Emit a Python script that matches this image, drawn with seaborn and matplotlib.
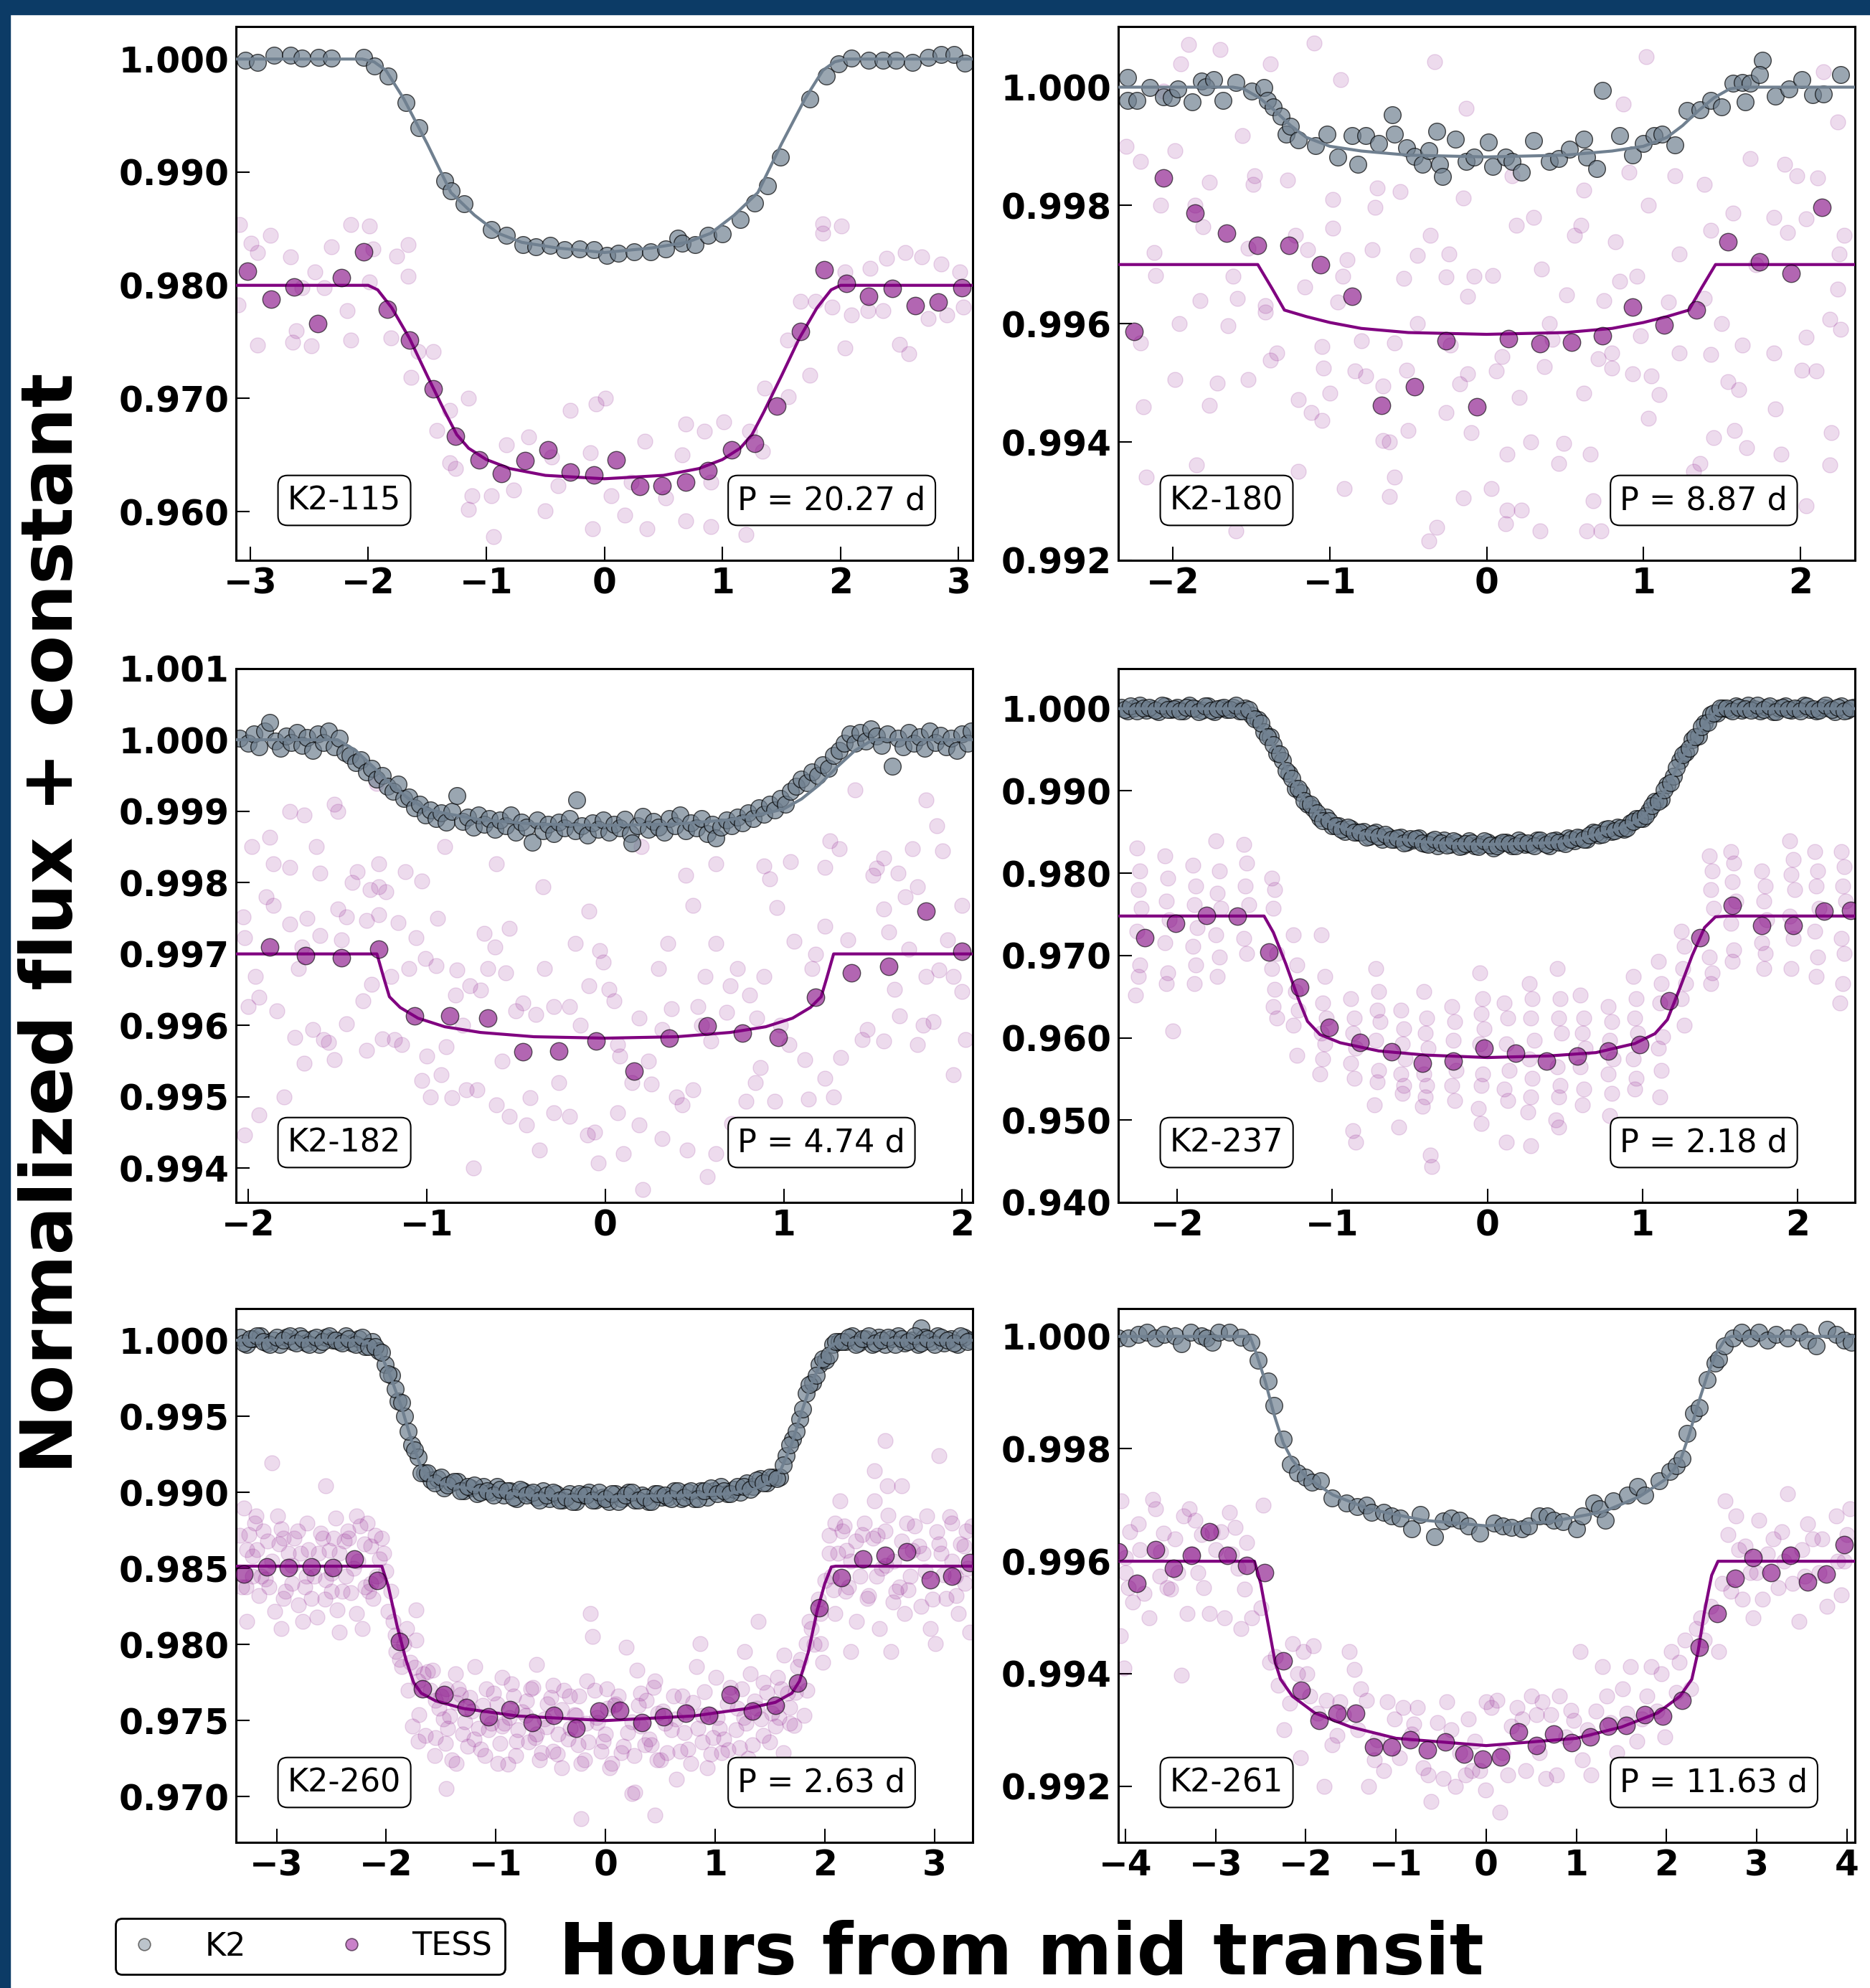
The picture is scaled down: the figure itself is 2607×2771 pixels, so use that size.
import matplotlib
matplotlib.use("Agg")
import matplotlib.pyplot as plt
import seaborn as sns
from matplotlib.lines import Line2D
from matplotlib.patches import Rectangle

sns.set_style("white")
plt.rcParams["font.family"] = ["DejaVu Sans"]
plt.rcParams.update({"text.color": "black", "xtick.color": "black", "ytick.color": "black",
                     "axes.edgecolor": "black", "axes.labelcolor": "black"})

# ======================================
# DATA  (hours from mid transit, normalized flux)
# ======================================

names = ["K2-115", "K2-180", "K2-182", "K2-237", "K2-260", "K2-261"]
periods = ["P = 20.27 d", "P = 8.87 d", "P = 4.74 d", "P = 2.18 d", "P = 2.63 d", "P = 11.63 d"]

# ---- K2-115 ----
p1_k2 = [(-3.04, 0.99990), (-2.94, 0.99973), (-2.80, 1.00031), (-2.66, 1.00031), (-2.56, 1.00007),
         (-2.42, 1.00014), (-2.31, 1.00007), (-2.04, 1.00014), (-1.95, 0.99938), (-1.83, 0.99852),
         (-1.68, 0.99612), (-1.57, 0.99395), (-1.35, 0.98924), (-1.30, 0.98838), (-1.19, 0.98718),
         (-0.96, 0.98495), (-0.83, 0.98443), (-0.69, 0.98357), (-0.58, 0.98340), (-0.46, 0.98351),
         (-0.34, 0.98313), (-0.21, 0.98323), (-0.09, 0.98313), (0.02, 0.98265), (0.12, 0.98282),
         (0.25, 0.98296), (0.39, 0.98296), (0.52, 0.98323), (0.62, 0.98419), (0.66, 0.98375),
         (0.77, 0.98357), (0.88, 0.98443), (1.00, 0.98454), (1.15, 0.98581), (1.27, 0.98725),
         (1.38, 0.98880), (1.49, 0.99131), (1.74, 0.99646), (1.88, 0.99852), (1.98, 0.99955),
         (2.09, 1.00007), (2.24, 0.99990), (2.36, 0.99990), (2.47, 0.99990), (2.61, 0.99973),
         (2.74, 1.00014), (2.85, 1.00041), (2.96, 1.00041), (3.05, 0.99962)]
p1_k2_model = [(-3.12, 1.0), (-2.05, 1.0), (-1.95, 0.99975), (-1.85, 0.99900), (-1.70, 0.99650),
               (-1.50, 0.99250), (-1.30, 0.98820), (-1.10, 0.98620), (-0.90, 0.98460), (-0.70, 0.98380),
               (-0.40, 0.98330), (0.0, 0.98290), (0.40, 0.98330), (0.70, 0.98380), (0.90, 0.98460),
               (1.10, 0.98620), (1.30, 0.98820), (1.50, 0.99250), (1.70, 0.99650), (1.85, 0.99900),
               (1.95, 0.99975), (2.05, 1.0), (3.12, 1.0)]
p1_bin = [(-3.02, 0.98124), (-2.82, 0.97876), (-2.63, 0.97986), (-2.43, 0.97663), (-2.23, 0.98069),
          (-2.04, 0.98296), (-1.84, 0.97787), (-1.65, 0.97515), (-1.45, 0.97086), (-1.26, 0.96667),
          (-1.06, 0.96457), (-0.87, 0.96337), (-0.67, 0.96450), (-0.48, 0.96546), (-0.29, 0.96347),
          (-0.09, 0.96323), (0.10, 0.96460), (0.30, 0.96220), (0.49, 0.96227), (0.69, 0.96261),
          (0.88, 0.96364), (1.08, 0.96543), (1.27, 0.96605), (1.46, 0.96931), (1.66, 0.97595),
          (1.86, 0.98137), (2.05, 0.98014), (2.24, 0.97904), (2.44, 0.97973), (2.63, 0.97821),
          (2.83, 0.97849), (3.03, 0.97979)]
p1_tess_model = [(-3.12, 0.9800), (-2.00, 0.9800), (-1.92, 0.9796), (-1.80, 0.9780), (-1.65, 0.9753),
                 (-1.50, 0.9720), (-1.35, 0.9688), (-1.25, 0.9668), (-1.15, 0.9656), (-1.00, 0.9646),
                 (-0.80, 0.9638), (-0.50, 0.9632), (0.0, 0.9629), (0.50, 0.9632), (0.80, 0.9638),
                 (1.00, 0.9646), (1.15, 0.9656), (1.25, 0.9668), (1.35, 0.9688), (1.50, 0.9720),
                 (1.65, 0.9753), (1.80, 0.9780), (1.92, 0.9796), (2.00, 0.9800), (3.12, 0.9800)]
p1_faint = [(-3.09, 0.98536), (-2.99, 0.98374), (-2.83, 0.98443), (-2.94, 0.97471), (-3.10, 0.97825),
            (-2.94, 0.98289), (-2.66, 0.98254), (-2.45, 0.98117), (-2.31, 0.98340), (-2.15, 0.98536),
            (-1.99, 0.98522), (-1.96, 0.98323), (-1.76, 0.98261), (-1.66, 0.98357), (-1.66, 0.98083),
            (-2.64, 0.97498), (-2.48, 0.97464), (-2.61, 0.97601), (-2.56, 0.97979), (-2.37, 0.97979),
            (-2.18, 0.97773), (-2.15, 0.97515), (-1.99, 0.98031), (-1.81, 0.97533), (-1.64, 0.97189),
            (-1.58, 0.97412), (-1.45, 0.97412), (-1.31, 0.96897), (-1.15, 0.97000), (-1.42, 0.96715),
            (-1.31, 0.96433), (-1.26, 0.96382), (-1.12, 0.96141), (-1.15, 0.96021), (-0.94, 0.95780),
            (-0.96, 0.96141), (-0.83, 0.96588), (-0.77, 0.96193), (-0.64, 0.96657), (-0.50, 0.96004),
            (-0.45, 0.96485), (-0.39, 0.96227), (-0.29, 0.96897), (-0.12, 0.96519), (-0.07, 0.96949),
            (0.01, 0.97000), (0.06, 0.96141), (-0.10, 0.95849), (0.17, 0.95969), (0.23, 0.96261),
            (0.36, 0.95849), (0.34, 0.96622), (0.52, 0.96124), (0.66, 0.96502), (0.69, 0.96777),
            (0.69, 0.95918), (0.85, 0.96708), (0.90, 0.96261), (0.90, 0.95866), (1.01, 0.96794),
            (1.20, 0.95797), (1.23, 0.96708), (1.34, 0.96536), (1.36, 0.97093), (1.56, 0.97017),
            (1.74, 0.97206), (1.55, 0.97515), (1.66, 0.97859), (1.79, 0.97859), (1.93, 0.97808),
            (1.85, 0.98546), (2.01, 0.98522), (1.85, 0.98460), (2.04, 0.98117), (2.09, 0.97739),
            (2.04, 0.97447), (2.23, 0.97773), (2.25, 0.98151), (2.39, 0.98237), (2.55, 0.98289),
            (2.58, 0.97395), (2.50, 0.97481), (2.69, 0.98254), (2.74, 0.97704), (2.85, 0.98186),
            (2.90, 0.97739), (3.01, 0.98117), (3.04, 0.97808), (2.36, 0.97773)]

# ---- K2-180 ----
p2_k2 = [(-2.29, 1.00016), (-2.29, 0.99977), (-2.23, 0.99977), (-2.15, 0.99999), (-2.06, 0.99984),
         (-2.01, 0.99982), (-1.97, 0.99997), (-1.88, 0.99975), (-1.82, 1.00010), (-1.79, 1.00000),
         (-1.74, 1.00013), (-1.68, 0.99977), (-1.60, 1.00008), (-1.50, 0.99993), (-1.42, 0.99999),
         (-1.40, 0.99977), (-1.36, 0.99967), (-1.31, 0.99951), (-1.28, 0.99921), (-1.25, 0.99934),
         (-1.20, 0.99911), (-1.09, 0.99901), (-1.02, 0.99921), (-0.95, 0.99882), (-0.86, 0.99918),
         (-0.82, 0.99869), (-0.77, 0.99918), (-0.69, 0.99905), (-0.60, 0.99953), (-0.59, 0.99921),
         (-0.51, 0.99898), (-0.46, 0.99883), (-0.41, 0.99869), (-0.37, 0.99892), (-0.32, 0.99925),
         (-0.30, 0.99869), (-0.28, 0.99849), (-0.20, 0.99912), (-0.13, 0.99875), (-0.08, 0.99882),
         (0.01, 0.99907), (0.04, 0.99866), (0.12, 0.99882), (0.16, 0.99875), (0.22, 0.99856),
         (0.30, 0.99910), (0.40, 0.99875), (0.46, 0.99879), (0.53, 0.99895), (0.62, 0.99912),
         (0.64, 0.99882), (0.70, 0.99862), (0.74, 0.99995), (0.85, 0.99918), (0.93, 0.99885),
         (1.00, 0.99905), (1.07, 0.99918), (1.12, 0.99921), (1.20, 0.99902), (1.28, 0.99961),
         (1.36, 0.99962), (1.43, 0.99977), (1.50, 0.99966), (1.57, 1.00007), (1.63, 1.00008),
         (1.65, 0.99975), (1.68, 1.00007), (1.76, 1.00046), (1.74, 1.00021), (1.84, 0.99985),
         (1.93, 0.99997), (2.01, 1.00013), (2.08, 0.99987), (2.15, 0.99988), (2.26, 1.00021)]
p2_k2_model = [(-2.35, 1.0), (-1.62, 1.0), (-1.55, 0.99997), (-1.45, 0.99982), (-1.35, 0.99960),
               (-1.25, 0.99935), (-1.15, 0.99915), (-1.00, 0.99900), (-0.80, 0.99892), (-0.50, 0.99885),
               (0.0, 0.99882), (0.50, 0.99885), (0.80, 0.99892), (1.00, 0.99900), (1.15, 0.99915),
               (1.25, 0.99935), (1.35, 0.99960), (1.45, 0.99982), (1.55, 0.99997), (1.62, 1.0), (2.35, 1.0)]
p2_bin = [(-2.25, 0.99587), (-2.06, 0.99846), (-1.86, 0.99787), (-1.66, 0.99753), (-1.46, 0.99733),
          (-1.26, 0.99733), (-1.06, 0.99700), (-0.86, 0.99646), (-0.67, 0.99462), (-0.46, 0.99494),
          (-0.26, 0.99571), (-0.06, 0.99460), (0.14, 0.99575), (0.34, 0.99566), (0.54, 0.99569),
          (0.74, 0.99580), (0.93, 0.99628), (1.13, 0.99598), (1.34, 0.99623), (1.54, 0.99738),
          (1.74, 0.99705), (1.94, 0.99685), (2.14, 0.99797)]
p2_tess_model = [(-2.35, 0.99700), (-1.46, 0.99700), (-1.37, 0.99660), (-1.29, 0.99623), (-1.15, 0.99612),
                 (-1.00, 0.99602), (-0.80, 0.99592), (-0.50, 0.99585), (0.0, 0.99582), (0.50, 0.99585),
                 (0.80, 0.99592), (1.00, 0.99602), (1.15, 0.99612), (1.29, 0.99623), (1.37, 0.99660),
                 (1.46, 0.99700), (2.35, 0.99700)]
p2_faint = [(-1.90, 1.00072), (-1.70, 1.00064), (-1.95, 1.00039), (-2.06, 0.99993), (-1.38, 1.00039),
            (-1.10, 1.00075), (-0.93, 1.00013), (-0.33, 1.00043), (-0.13, 0.99964), (1.02, 1.00052),
            (0.87, 0.99972), (2.15, 1.00026), (2.24, 0.99941), (-1.56, 0.99918), (-1.99, 0.99892),
            (-2.21, 0.99875), (-1.77, 0.99839), (-1.49, 0.99836), (-1.27, 0.99843), (-0.98, 0.99810),
            (-0.71, 0.99797), (-0.55, 0.99823), (-0.15, 0.99813), (0.62, 0.99826), (0.91, 0.99856),
            (1.39, 0.99836), (1.68, 0.99879), (1.90, 0.99869), (2.11, 0.99846), (1.03, 0.99800),
            (1.57, 0.99787), (1.83, 0.99780), (1.92, 0.99754), (2.04, 0.99777), (-2.08, 0.99800),
            (-1.81, 0.99764), (-1.52, 0.99728), (-1.14, 0.99725), (-0.98, 0.99761), (-0.89, 0.99708),
            (-0.73, 0.99725), (-0.44, 0.99715), (-0.24, 0.99718), (0.19, 0.99767), (0.30, 0.99780),
            (0.60, 0.99767), (0.82, 0.99738), (1.23, 0.99718), (1.43, 0.99758), (2.25, 0.99718),
            (-2.11, 0.99682), (-1.83, 0.99639), (-1.59, 0.99643), (-1.41, 0.99630), (-1.16, 0.99662),
            (-0.95, 0.99636), (-0.53, 0.99677), (-0.26, 0.99679), (-0.12, 0.99646), (0.04, 0.99682),
            (0.35, 0.99692), (0.51, 0.99649), (0.75, 0.99639), (0.85, 0.99672), (1.16, 0.99636),
            (1.39, 0.99643), (2.24, 0.99659), (2.19, 0.99607), (-2.21, 0.99567), (-1.65, 0.99597),
            (-1.41, 0.99620), (-1.05, 0.99561), (-0.80, 0.99571), (-0.59, 0.99567), (-0.23, 0.99564),
            (0.10, 0.99544), (0.42, 0.99574), (0.71, 0.99541), (0.98, 0.99580), (1.23, 0.99551),
            (1.43, 0.99548), (1.63, 0.99564), (1.83, 0.99551), (2.04, 0.99577), (2.26, 0.99590),
            (-1.38, 0.99538), (-1.04, 0.99525), (-0.77, 0.99512), (-0.51, 0.99521), (-0.12, 0.99515),
            (0.37, 0.99528), (0.80, 0.99525), (1.05, 0.99512), (1.54, 0.99502), (2.01, 0.99521),
            (-1.99, 0.99505), (-1.52, 0.99505), (-1.20, 0.99472), (-1.00, 0.99482), (-0.66, 0.99495),
            (-0.17, 0.99498), (0.21, 0.99475), (0.62, 0.99482), (0.93, 0.99515), (1.61, 0.99489),
            (1.84, 0.99456), (-2.19, 0.99459), (-1.77, 0.99462), (-1.05, 0.99436), (-0.66, 0.99403),
            (-0.50, 0.99420), (-0.10, 0.99416), (0.13, 0.99380), (0.49, 0.99397), (0.66, 0.99380),
            (1.03, 0.99440), (1.45, 0.99407), (1.66, 0.99390), (2.19, 0.99361), (-1.85, 0.99361),
            (-2.17, 0.99341), (-0.91, 0.99321), (-0.59, 0.99341), (-0.62, 0.99308), (-0.32, 0.99256),
            (-0.15, 0.99305), (0.03, 0.99321), (0.13, 0.99285), (0.22, 0.99285), (0.12, 0.99262),
            (0.46, 0.99364), (0.64, 0.99249), (0.73, 0.99249), (1.05, 0.99318), (1.36, 0.99364),
            (1.63, 0.99315), (2.20, 0.99416), (-0.37, 0.99233), (2.04, 0.99292),
            (-2.30, 0.99900), (-2.12, 0.99720), (-1.96, 0.99600), (-1.86, 0.99800), (-1.72, 0.99500),
            (-1.62, 0.99680), (-1.48, 0.99850), (-1.34, 0.99550), (-1.22, 0.99750), (-1.12, 0.99450),
            (-0.92, 0.99680), (-0.84, 0.99520), (-0.70, 0.99830), (-0.62, 0.99400), (-0.44, 0.99600),
            (-0.36, 0.99750), (-0.26, 0.99450), (-0.08, 0.99680), (0.06, 0.99520), (0.16, 0.99850),
            (0.28, 0.99400), (0.40, 0.99600), (0.56, 0.99750), (0.68, 0.99300), (0.80, 0.99550),
            (0.96, 0.99680), (1.10, 0.99480), (1.20, 0.99850), (1.32, 0.99350), (1.50, 0.99600),
            (1.58, 0.99420), (1.72, 0.99700), (1.88, 0.99380), (1.98, 0.99850), (2.10, 0.99520),
            (2.28, 0.99750), (-2.02, 0.99300), (-1.60, 0.99250), (-1.20, 0.99350), (0.34, 0.99250)]

# ---- K2-182 ----
p3_k2 = [(-2.05, 1.00002), (-2.00, 0.99995), (-1.97, 1.00008), (-1.94, 0.99990), (-1.91, 1.00012),
         (-1.88, 1.00024), (-1.85, 0.99998), (-1.82, 0.99988), (-1.79, 1.00005), (-1.76, 0.99996),
         (-1.73, 1.00010), (-1.70, 0.99992), (-1.67, 1.00003), (-1.64, 0.99985), (-1.61, 1.00008),
         (-1.58, 0.99996), (-1.55, 1.00012), (-1.52, 0.99990), (-1.49, 1.00002), (-1.46, 0.99982),
         (-1.43, 0.99978), (-1.40, 0.99968), (-1.37, 0.99972), (-1.34, 0.99955), (-1.31, 0.99960),
         (-1.28, 0.99945), (-1.25, 0.99950), (-1.22, 0.99935), (-1.19, 0.99928), (-1.16, 0.99938),
         (-1.13, 0.99918), (-1.10, 0.99920), (-1.07, 0.99905), (-1.04, 0.99910), (-1.01, 0.99895),
         (-0.98, 0.99902), (-0.95, 0.99890), (-0.92, 0.99898), (-0.89, 0.99885), (-0.86, 0.99900),
         (-0.83, 0.99922), (-0.80, 0.99886), (-0.77, 0.99892), (-0.74, 0.99878), (-0.71, 0.99895),
         (-0.68, 0.99882), (-0.65, 0.99890), (-0.62, 0.99874), (-0.59, 0.99888), (-0.56, 0.99880),
         (-0.53, 0.99895), (-0.50, 0.99870), (-0.47, 0.99885), (-0.44, 0.99878), (-0.41, 0.99856),
         (-0.38, 0.99888), (-0.35, 0.99872), (-0.32, 0.99882), (-0.29, 0.99868), (-0.26, 0.99885),
         (-0.23, 0.99876), (-0.20, 0.99890), (-0.17, 0.99872), (-0.16, 0.99916), (-0.13, 0.99880),
         (-0.10, 0.99866), (-0.07, 0.99884), (-0.04, 0.99874), (-0.01, 0.99888), (0.02, 0.99870),
         (0.05, 0.99882), (0.08, 0.99876), (0.11, 0.99889), (0.14, 0.99868), (0.15, 0.99855),
         (0.18, 0.99880), (0.21, 0.99893), (0.24, 0.99874), (0.27, 0.99886), (0.30, 0.99878),
         (0.33, 0.99870), (0.36, 0.99890), (0.39, 0.99880), (0.42, 0.99895), (0.45, 0.99872),
         (0.48, 0.99884), (0.51, 0.99876), (0.54, 0.99890), (0.57, 0.99868), (0.60, 0.99882),
         (0.62, 0.99862), (0.65, 0.99878), (0.68, 0.99888), (0.71, 0.99880), (0.74, 0.99892),
         (0.77, 0.99884), (0.80, 0.99898), (0.83, 0.99890), (0.86, 0.99905), (0.89, 0.99896),
         (0.92, 0.99910), (0.95, 0.99902), (0.98, 0.99918), (1.01, 0.99910), (1.04, 0.99928),
         (1.07, 0.99935), (1.10, 0.99945), (1.13, 0.99940), (1.16, 0.99955), (1.19, 0.99950),
         (1.22, 0.99965), (1.25, 0.99960), (1.28, 0.99978), (1.31, 0.99985), (1.34, 0.99995),
         (1.37, 1.00008), (1.40, 0.99995), (1.43, 1.00010), (1.46, 0.99998), (1.49, 1.00015),
         (1.52, 1.00005), (1.55, 0.99992), (1.58, 1.00008), (1.61, 0.99963), (1.64, 1.00002),
         (1.67, 0.99990), (1.70, 1.00010), (1.73, 0.99995), (1.76, 1.00004), (1.79, 0.99988),
         (1.82, 1.00012), (1.85, 0.99996), (1.88, 1.00006), (1.91, 0.99990), (1.94, 1.00002),
         (1.97, 0.99985), (2.00, 1.00008), (2.03, 0.99995), (2.05, 1.00012)]
p3_k2_model = [(-2.07, 1.0), (-1.50, 1.0), (-1.40, 0.99985), (-1.30, 0.99962), (-1.20, 0.99937),
               (-1.10, 0.99917), (-1.00, 0.99903), (-0.90, 0.99897), (-0.70, 0.99888), (-0.40, 0.99882),
               (0.0, 0.99880), (0.40, 0.99882), (0.70, 0.99888), (0.90, 0.99897), (1.00, 0.99903),
               (1.10, 0.99917), (1.20, 0.99937), (1.30, 0.99962), (1.40, 0.99985), (1.50, 1.0), (2.07, 1.0)]
p3_bin = [(-1.88, 0.99710), (-1.68, 0.99698), (-1.48, 0.99695), (-1.27, 0.99707), (-1.07, 0.99613),
          (-0.87, 0.99613), (-0.66, 0.99610), (-0.46, 0.99563), (-0.26, 0.99564), (-0.05, 0.99578),
          (0.16, 0.99536), (0.36, 0.99582), (0.57, 0.99599), (0.77, 0.99589), (0.97, 0.99583),
          (1.18, 0.99639), (1.38, 0.99673), (1.59, 0.99683), (1.80, 0.99760), (2.00, 0.99704)]
p3_tess_model = [(-2.07, 0.99700), (-1.28, 0.99700), (-1.24, 0.99665), (-1.21, 0.99640), (-1.15, 0.99625),
                 (-1.05, 0.99610), (-0.90, 0.99598), (-0.70, 0.99590), (-0.40, 0.99584), (0.0, 0.99582),
                 (0.40, 0.99584), (0.70, 0.99590), (0.90, 0.99598), (1.05, 0.99610), (1.15, 0.99625),
                 (1.21, 0.99640), (1.24, 0.99665), (1.28, 0.99700), (2.07, 0.99700)]
p3_faint = [(-2.03, 0.99752), (-2.02, 0.99723), (-1.96, 0.99668), (-2.00, 0.99626), (-1.94, 0.99475),
            (-2.02, 0.99446), (-1.94, 0.99639), (-1.86, 0.99826), (-1.88, 0.99863), (-1.77, 0.99900),
            (-1.69, 0.99895), (-1.60, 0.99813), (-1.77, 0.99821), (-1.86, 0.99768), (-1.77, 0.99742),
            (-1.67, 0.99750), (-1.70, 0.99710), (-1.60, 0.99726), (-1.50, 0.99763), (-1.45, 0.99752),
            (-1.34, 0.99747), (-1.27, 0.99755), (-1.39, 0.99815), (-1.42, 0.99800), (-1.27, 0.99826),
            (-1.27, 0.99794), (-1.12, 0.99815), (-1.23, 0.99787), (-1.16, 0.99744), (-1.06, 0.99723),
            (-1.03, 0.99802), (-1.52, 0.99910), (-1.28, 0.99939), (-1.20, 0.99668), (-1.31, 0.99657),
            (-1.36, 0.99634), (-1.45, 0.99602), (-1.55, 0.99576), (-1.64, 0.99594), (-1.74, 0.99583),
            (-1.69, 0.99547), (-1.52, 0.99552), (-1.34, 0.99565), (-1.25, 0.99581), (-1.14, 0.99573),
            (-1.00, 0.99557), (-0.89, 0.99570), (-1.03, 0.99523), (-0.92, 0.99531), (-0.86, 0.99499),
            (-0.78, 0.99510), (-0.72, 0.99510), (-0.61, 0.99489), (-0.54, 0.99473), (-0.42, 0.99499),
            (-0.29, 0.99478), (-0.20, 0.99473), (-0.10, 0.99446), (-0.04, 0.99407), (0.07, 0.99478),
            (0.19, 0.99460), (0.32, 0.99441), (0.46, 0.99425), (0.57, 0.99388), (0.71, 0.99462),
            (0.79, 0.99494), (0.95, 0.99494), (1.14, 0.99497), (1.23, 0.99526), (1.32, 0.99555),
            (1.47, 0.99594), (1.56, 0.99578), (1.65, 0.99613), (1.75, 0.99573), (1.84, 0.99605),
            (1.95, 0.99531), (2.00, 0.99647), (1.95, 0.99668), (1.87, 0.99678), (1.80, 0.99668),
            (1.70, 0.99707), (1.59, 0.99731), (1.56, 0.99763), (1.50, 0.99810), (1.56, 0.99834),
            (1.64, 0.99813), (1.75, 0.99794), (1.72, 0.99847), (1.89, 0.99844), (1.80, 0.99916),
            (2.00, 0.99768), (1.31, 0.99847), (1.26, 0.99858), (1.23, 0.99821), (1.23, 0.99739),
            (1.18, 0.99700), (1.06, 0.99718), (0.92, 0.99805), (0.89, 0.99823), (0.96, 0.99765),
            (1.04, 0.99829), (0.62, 0.99826), (0.45, 0.99810), (0.49, 0.99768), (0.35, 0.99715),
            (0.62, 0.99715), (0.56, 0.99668), (0.70, 0.99655), (0.81, 0.99642), (0.89, 0.99668),
            (0.85, 0.99610), (0.68, 0.99618), (0.52, 0.99626), (0.37, 0.99623), (0.32, 0.99594),
            (0.19, 0.99610), (0.08, 0.99557), (0.05, 0.99634), (-0.01, 0.99689), (-0.09, 0.99655),
            (-0.03, 0.99705), (-0.17, 0.99715), (-0.20, 0.99626), (-0.29, 0.99626), (-0.39, 0.99615),
            (-0.46, 0.99631), (-0.56, 0.99673), (-0.54, 0.99736), (-0.62, 0.99710), (-0.68, 0.99729),
            (-0.76, 0.99655), (-0.70, 0.99649), (-0.83, 0.99678), (-0.95, 0.99684), (-0.84, 0.99642),
            (-1.01, 0.99694), (-0.35, 0.99794), (-0.09, 0.99760), (-0.61, 0.99826), (-0.37, 0.99425),
            (0.07, 0.99573), (0.15, 0.99520), (0.26, 0.99518), (0.43, 0.99489), (0.49, 0.99510),
            (0.59, 0.99578), (0.87, 0.99541), (1.03, 0.99573), (1.12, 0.99552), (0.21, 0.99370),
            (-1.98, 0.99850), (-1.90, 0.99780), (-1.84, 0.99620), (-1.80, 0.99500), (-1.72, 0.99680),
            (-1.62, 0.99850), (-1.58, 0.99580), (-1.48, 0.99720), (-1.40, 0.99450), (-1.32, 0.99790),
            (-1.18, 0.99580), (-1.10, 0.99680), (-0.98, 0.99500), (-0.94, 0.99750), (-0.80, 0.99600),
            (-0.74, 0.99400), (-0.66, 0.99680), (-0.58, 0.99550), (-0.50, 0.99620), (-0.44, 0.99460),
            (-0.34, 0.99680), (-0.26, 0.99520), (-0.14, 0.99600), (-0.06, 0.99450), (0.02, 0.99650),
            (0.10, 0.99420), (0.24, 0.99550), (0.30, 0.99680), (0.40, 0.99500), (0.54, 0.99600),
            (0.62, 0.99420), (0.74, 0.99680), (0.84, 0.99520), (0.98, 0.99600), (1.08, 0.99420),
            (1.16, 0.99680), (1.28, 0.99500), (1.36, 0.99720), (1.44, 0.99580), (1.52, 0.99820),
            (1.62, 0.99650), (1.68, 0.99780), (1.78, 0.99600), (1.86, 0.99880), (1.92, 0.99720),
            (2.02, 0.99580), (-1.50, 0.99900), (1.40, 0.99930), (-0.90, 0.99850), (0.20, 0.99850)]

# ---- K2-237 ----
p4_k2 = [(-2.36, 1.0002), (-2.32, 0.9997), (-2.28, 1.0001), (-2.24, 1.0004), (-2.20, 0.9998),
         (-2.16, 1.0000), (-2.12, 0.9996), (-2.08, 1.0003), (-2.04, 0.9999), (-2.00, 1.0002),
         (-1.96, 0.9997), (-1.92, 1.0004), (-1.88, 1.0000), (-1.84, 0.9998), (-1.80, 1.0003),
         (-1.76, 0.9996), (-1.72, 1.0001), (-1.68, 0.9999), (-1.64, 1.0002), (-1.60, 0.9997),
         (-1.56, 1.0001), (-1.52, 0.9992), (-1.48, 0.9987), (-1.44, 0.9972), (-1.40, 0.9966),
         (-1.36, 0.9946), (-1.32, 0.9937), (-1.28, 0.9921), (-1.24, 0.9903), (-1.20, 0.9898),
         (-1.16, 0.9884), (-1.12, 0.9879), (-1.08, 0.9867), (-1.04, 0.9868), (-1.00, 0.9858),
         (-0.96, 0.9858), (-0.92, 0.9851), (-0.88, 0.9854), (-0.84, 0.9850), (-0.80, 0.9851),
         (-0.76, 0.9845), (-0.72, 0.9850), (-0.68, 0.9841), (-0.64, 0.9845), (-0.60, 0.9841),
         (-0.56, 0.9844), (-0.52, 0.9838), (-0.48, 0.9840), (-0.44, 0.9843), (-0.40, 0.9836),
         (-0.36, 0.9839), (-0.32, 0.9833), (-0.28, 0.9840), (-0.24, 0.9835), (-0.20, 0.9838),
         (-0.16, 0.9833), (-0.12, 0.9839), (-0.08, 0.9833), (-0.04, 0.9835), (0.00, 0.9838),
         (0.04, 0.9831), (0.08, 0.9836), (0.12, 0.9838), (0.16, 0.9833), (0.20, 0.9840),
         (0.24, 0.9835), (0.28, 0.9835), (0.32, 0.9840), (0.36, 0.9837), (0.40, 0.9833),
         (0.44, 0.9840), (0.48, 0.9838), (0.52, 0.9843), (0.56, 0.9839), (0.60, 0.9843),
         (0.64, 0.9841), (0.68, 0.9850), (0.72, 0.9846), (0.76, 0.9853), (0.80, 0.9851),
         (0.84, 0.9856), (0.88, 0.9853), (0.92, 0.9861), (0.96, 0.9866), (1.00, 0.9866),
         (1.04, 0.9876), (1.08, 0.9887), (1.12, 0.9890), (1.16, 0.9907), (1.20, 0.9918),
         (1.24, 0.9937), (1.28, 0.9947), (1.32, 0.9962), (1.36, 0.9967), (1.40, 0.9982),
         (1.44, 0.9993), (1.48, 0.9995), (1.52, 1.0001), (1.56, 0.9999), (1.60, 1.0003),
         (1.64, 0.9998), (1.68, 1.0004), (1.72, 1.0000), (1.76, 0.9997), (1.80, 1.0002),
         (1.84, 0.9996), (1.88, 1.0001), (1.92, 1.0003), (1.96, 0.9998), (2.00, 1.0000),
         (2.04, 1.0004), (2.08, 0.9999), (2.12, 0.9997), (2.16, 1.0002), (2.20, 1.0001),
         (2.24, 0.9996), (2.28, 1.0003), (2.32, 0.9998), (2.36, 1.0002)]
p4_k2_more = [(-2.34, 0.9999), (-2.30, 1.0003), (-2.26, 0.9997), (-2.22, 1.0001), (-2.18, 1.0002),
              (-2.14, 0.9998), (-2.10, 1.0004), (-2.06, 0.9999), (-2.02, 1.0000), (-1.98, 0.9997),
              (-1.94, 1.0002), (-1.90, 1.0001), (-1.86, 0.9996), (-1.82, 1.0003), (-1.78, 0.9998),
              (-1.74, 1.0000), (-1.70, 1.0002), (-1.66, 0.9999), (-1.62, 1.0004), (-1.58, 0.9997),
              (-1.54, 0.9999), (-1.50, 0.9988), (-1.46, 0.9982), (-1.42, 0.9966), (-1.38, 0.9956),
              (-1.34, 0.9945), (-1.30, 0.9925), (-1.26, 0.9915), (-1.22, 0.9903), (-1.18, 0.9888),
              (-1.14, 0.9884), (-1.10, 0.9873), (-1.06, 0.9864), (-1.02, 0.9864), (-0.98, 0.9858),
              (-0.94, 0.9853), (-0.90, 0.9856), (-0.86, 0.9850), (-0.82, 0.9850), (-0.78, 0.9844),
              (-0.74, 0.9848), (-0.70, 0.9845), (-0.66, 0.9847), (-0.62, 0.9841), (-0.58, 0.9843),
              (-0.54, 0.9837), (-0.50, 0.9842), (-0.46, 0.9842), (-0.42, 0.9837), (-0.38, 0.9835),
              (-0.34, 0.9841), (-0.30, 0.9837), (-0.26, 0.9834), (-0.22, 0.9839), (-0.18, 0.9832),
              (-0.14, 0.9836), (-0.10, 0.9837), (-0.06, 0.9832), (-0.02, 0.9839), (0.02, 0.9834),
              (0.06, 0.9833), (0.10, 0.9838), (0.14, 0.9836), (0.18, 0.9833), (0.22, 0.9838),
              (0.26, 0.9837), (0.30, 0.9833), (0.34, 0.9840), (0.38, 0.9835), (0.42, 0.9839),
              (0.46, 0.9838), (0.50, 0.9836), (0.54, 0.9841), (0.58, 0.9844), (0.62, 0.9841),
              (0.66, 0.9846), (0.70, 0.9849), (0.74, 0.9847), (0.78, 0.9854), (0.82, 0.9852),
              (0.86, 0.9855), (0.90, 0.9855), (0.94, 0.9863), (0.98, 0.9866), (1.02, 0.9870),
              (1.06, 0.9882), (1.10, 0.9887), (1.14, 0.9901), (1.18, 0.9910), (1.22, 0.9928),
              (1.26, 0.9944), (1.30, 0.9952), (1.34, 0.9966), (1.38, 0.9978), (1.42, 0.9983),
              (1.46, 0.9995), (1.50, 1.0001), (1.54, 1.0001), (1.58, 0.9997), (1.62, 1.0002),
              (1.66, 1.0000), (1.70, 0.9998), (1.74, 1.0004), (1.78, 0.9999), (1.82, 1.0003),
              (1.86, 0.9996), (1.90, 1.0002), (1.94, 0.9999), (1.98, 1.0001), (2.02, 0.9997),
              (2.06, 1.0003), (2.10, 1.0000), (2.14, 0.9998), (2.18, 1.0004), (2.22, 0.9999),
              (2.26, 1.0002), (2.30, 0.9997), (2.34, 1.0001)]
p4_k2_model = [(-2.38, 1.0), (-1.56, 1.0), (-1.52, 0.9994), (-1.48, 0.9984), (-1.44, 0.9973),
               (-1.40, 0.9962), (-1.36, 0.9949), (-1.32, 0.9935), (-1.28, 0.9921), (-1.24, 0.9907),
               (-1.20, 0.9895), (-1.16, 0.9885), (-1.12, 0.9877), (-1.08, 0.9870), (-1.00, 0.9860),
               (-0.90, 0.9853), (-0.80, 0.9848), (-0.60, 0.9842), (-0.40, 0.9838), (-0.20, 0.9836),
               (0.0, 0.9835), (0.20, 0.9836), (0.40, 0.9837), (0.60, 0.9842), (0.72, 0.9848),
               (0.84, 0.9854), (0.96, 0.9863), (1.00, 0.9868), (1.04, 0.9876), (1.08, 0.9883),
               (1.12, 0.9893), (1.16, 0.9906), (1.20, 0.9920), (1.24, 0.9934), (1.28, 0.9948),
               (1.32, 0.9960), (1.36, 0.9971), (1.40, 0.9981), (1.44, 0.9990), (1.48, 0.9997),
               (1.52, 1.0), (2.38, 1.0)]
p4_bin = [(-2.21, 0.97215), (-2.01, 0.97389), (-1.81, 0.97490), (-1.61, 0.97481), (-1.41, 0.97046),
          (-1.21, 0.96611), (-1.02, 0.96130), (-0.82, 0.95947), (-0.62, 0.95832), (-0.42, 0.95695),
          (-0.22, 0.95718), (-0.02, 0.95878), (0.18, 0.95809), (0.38, 0.95718), (0.58, 0.95777),
          (0.78, 0.95842), (0.98, 0.95915), (1.17, 0.96451), (1.37, 0.97215), (1.58, 0.97609),
          (1.77, 0.97366), (1.97, 0.97366), (2.17, 0.97540), (2.34, 0.97550)]
p4_tess_model = [(-2.38, 0.9748), (-1.44, 0.9748), (-1.38, 0.9728), (-1.30, 0.9690), (-1.22, 0.9648),
                 (-1.16, 0.9620), (-1.08, 0.9604), (-0.95, 0.9594), (-0.70, 0.9584), (-0.40, 0.9579),
                 (0.0, 0.9576), (0.40, 0.9578), (0.70, 0.9582), (0.95, 0.9593), (1.08, 0.9605),
                 (1.16, 0.9622), (1.24, 0.9660), (1.32, 0.9700), (1.40, 0.9734), (1.47, 0.9747),
                 (1.55, 0.9748), (2.38, 0.9748)]
p4_faint = [(-2.26, 0.98305), (-2.24, 0.98031), (-2.25, 0.97802), (-2.23, 0.97573), (-2.26, 0.97298),
            (-2.24, 0.96885), (-2.25, 0.96748), (-2.27, 0.96518),
            (-2.08, 0.98214), (-2.06, 0.97939), (-2.07, 0.97664), (-2.05, 0.97435), (-2.08, 0.97160),
            (-2.06, 0.96793), (-2.07, 0.96656), (-2.03, 0.96083),
            (-1.90, 0.98099), (-1.88, 0.97847), (-1.89, 0.97618), (-1.87, 0.97343), (-1.90, 0.97114),
            (-1.88, 0.96885), (-1.89, 0.96656),
            (-1.75, 0.98397), (-1.73, 0.98031), (-1.74, 0.97756), (-1.72, 0.97573), (-1.75, 0.97252),
            (-1.73, 0.96977), (-1.74, 0.96748),
            (-1.57, 0.98351), (-1.55, 0.98122), (-1.56, 0.97847), (-1.54, 0.97618), (-1.57, 0.97206),
            (-1.55, 0.97023),
            (-1.39, 0.97939), (-1.37, 0.97802), (-1.38, 0.97573), (-1.36, 0.97023), (-1.39, 0.96839),
            (-1.37, 0.96587), (-1.38, 0.96381), (-1.36, 0.96243),
            (-1.25, 0.97252), (-1.23, 0.96885), (-1.24, 0.96564), (-1.22, 0.96335), (-1.25, 0.96152),
            (-1.23, 0.95785),
            (-1.07, 0.97252), (-1.05, 0.96748), (-1.06, 0.96427), (-1.04, 0.96243), (-1.07, 0.96060),
            (-1.05, 0.95923), (-1.06, 0.95739), (-1.08, 0.95556),
            (-0.88, 0.96473), (-0.86, 0.96243), (-0.87, 0.96060), (-0.85, 0.95877), (-0.88, 0.95693),
            (-0.86, 0.95510), (-0.87, 0.94869), (-0.85, 0.94732),
            (-0.72, 0.96839), (-0.70, 0.96564), (-0.71, 0.96335), (-0.69, 0.96198), (-0.72, 0.95968),
            (-0.70, 0.95602), (-0.71, 0.95464), (-0.73, 0.95189),
            (-0.56, 0.96335), (-0.54, 0.96106), (-0.55, 0.95923), (-0.53, 0.95739), (-0.56, 0.95556),
            (-0.54, 0.95418), (-0.55, 0.95327), (-0.57, 0.94915),
            (-0.41, 0.96564), (-0.39, 0.96243), (-0.40, 0.96060), (-0.38, 0.95877), (-0.41, 0.95556),
            (-0.39, 0.95418), (-0.40, 0.95281), (-0.42, 0.95166), (-0.37, 0.94572), (-0.36, 0.94434),
            (-0.23, 0.96381), (-0.21, 0.96198), (-0.22, 0.95968), (-0.20, 0.95602), (-0.23, 0.95418),
            (-0.21, 0.95235),
            (-0.05, 0.96793), (-0.03, 0.96473), (-0.04, 0.96289), (-0.02, 0.96106), (-0.05, 0.95923),
            (-0.03, 0.95556), (-0.04, 0.95418), (-0.06, 0.95144), (-0.04, 0.94960),
            (0.11, 0.96427), (0.13, 0.96243), (0.12, 0.95923), (0.14, 0.95602), (0.11, 0.95373),
            (0.13, 0.95235), (0.12, 0.94732),
            (0.27, 0.96656), (0.29, 0.96473), (0.28, 0.96243), (0.30, 0.95968), (0.27, 0.95739),
            (0.29, 0.95510), (0.28, 0.95281), (0.26, 0.95098), (0.28, 0.94686),
            (0.45, 0.96839), (0.47, 0.96473), (0.46, 0.96243), (0.48, 0.96060), (0.45, 0.95648),
            (0.47, 0.95418), (0.46, 0.95281), (0.44, 0.95006), (0.46, 0.94915),
            (0.60, 0.96518), (0.62, 0.96243), (0.61, 0.96060), (0.63, 0.95877), (0.60, 0.95648),
            (0.62, 0.95373), (0.61, 0.95189),
            (0.78, 0.96381), (0.80, 0.96198), (0.79, 0.95968), (0.81, 0.95739), (0.78, 0.95556),
            (0.80, 0.95327), (0.79, 0.95052),
            (0.94, 0.96748), (0.96, 0.96473), (0.95, 0.96243), (0.97, 0.96060), (0.94, 0.95739),
            (0.96, 0.95510), (0.95, 0.95373),
            (1.10, 0.96931), (1.12, 0.96656), (1.11, 0.96427), (1.13, 0.96014), (1.10, 0.95877),
            (1.12, 0.95602), (1.11, 0.95281),
            (1.25, 0.97298), (1.27, 0.97114), (1.26, 0.96839), (1.28, 0.96656), (1.25, 0.96473),
            (1.27, 0.96152),
            (1.43, 0.98214), (1.45, 0.98031), (1.44, 0.97802), (1.46, 0.97573), (1.43, 0.96977),
            (1.45, 0.96793), (1.44, 0.96656),
            (1.57, 0.98260), (1.59, 0.98122), (1.58, 0.97893), (1.60, 0.97664), (1.57, 0.97389),
            (1.59, 0.97068), (1.58, 0.96931),
            (1.77, 0.98031), (1.79, 0.97847), (1.78, 0.97664), (1.80, 0.97435), (1.77, 0.97160),
            (1.79, 0.97023), (1.78, 0.96839),
            (1.95, 0.98397), (1.97, 0.98168), (1.96, 0.97985), (1.98, 0.97802), (1.95, 0.97481),
            (1.97, 0.97206), (1.96, 0.96839),
            (2.11, 0.98260), (2.13, 0.98031), (2.12, 0.97847), (2.14, 0.97573), (2.11, 0.97298),
            (2.13, 0.96977), (2.12, 0.96748),
            (2.28, 0.98260), (2.30, 0.98076), (2.29, 0.97847), (2.31, 0.97664), (2.28, 0.97206),
            (2.30, 0.97023), (2.29, 0.96656), (2.27, 0.96427)]

# ---- K2-260 ----
p5_k2 = [(-3.33, 1.0002), (-3.27, 0.9997), (-3.21, 1.0001), (-3.15, 1.0003), (-3.09, 0.9998),
         (-3.03, 1.0000), (-2.97, 0.9997), (-2.91, 1.0002), (-2.85, 0.9999), (-2.79, 1.0003),
         (-2.73, 0.9998), (-2.67, 1.0001), (-2.61, 0.9997), (-2.55, 1.0002), (-2.49, 1.0000),
         (-2.43, 0.9999), (-2.37, 1.0003), (-2.31, 0.9998), (-2.25, 1.0001), (-2.19, 0.9996),
         (-2.13, 0.9999), (-2.07, 0.9993), (-2.01, 0.9984), (-1.95, 0.9977), (-1.89, 0.9960),
         (-1.83, 0.9950), (-1.77, 0.9931), (-1.71, 0.9923), (-1.65, 0.9913), (-1.59, 0.9908),
         (-1.53, 0.9909), (-1.47, 0.9903), (-1.41, 0.9906), (-1.35, 0.9907), (-1.29, 0.9901),
         (-1.23, 0.9903), (-1.17, 0.9899), (-1.11, 0.9904), (-1.05, 0.9900), (-0.99, 0.9904),
         (-0.93, 0.9898), (-0.87, 0.9901), (-0.81, 0.9896), (-0.75, 0.9901), (-0.69, 0.9899),
         (-0.63, 0.9897), (-0.57, 0.9901), (-0.51, 0.9896), (-0.45, 0.9899), (-0.39, 0.9895),
         (-0.33, 0.9899), (-0.27, 0.9894), (-0.21, 0.9898), (-0.15, 0.9900), (-0.09, 0.9895),
         (-0.03, 0.9897), (0.03, 0.9894), (0.09, 0.9899), (0.15, 0.9896), (0.21, 0.9900),
         (0.27, 0.9895), (0.33, 0.9898), (0.39, 0.9894), (0.45, 0.9899), (0.51, 0.9897),
         (0.57, 0.9897), (0.63, 0.9901), (0.69, 0.9896), (0.75, 0.9900), (0.81, 0.9896),
         (0.87, 0.9901), (0.93, 0.9897), (0.99, 0.9901), (1.05, 0.9904), (1.11, 0.9899),
         (1.17, 0.9902), (1.23, 0.9900), (1.29, 0.9906), (1.35, 0.9904), (1.41, 0.9909),
         (1.47, 0.9906), (1.53, 0.9910), (1.59, 0.9910), (1.65, 0.9924), (1.71, 0.9935),
         (1.77, 0.9948), (1.83, 0.9965), (1.89, 0.9972), (1.95, 0.9984), (2.01, 0.9987),
         (2.07, 0.9997), (2.13, 0.9999), (2.19, 0.9999), (2.25, 1.0003), (2.31, 0.9998),
         (2.37, 1.0001), (2.43, 0.9997), (2.49, 1.0002), (2.55, 0.9997), (2.61, 1.0001),
         (2.67, 1.0003), (2.73, 0.9998), (2.79, 1.0000), (2.85, 0.9997), (2.88, 1.0008),
         (2.91, 1.0002), (2.97, 0.9999), (3.03, 1.0003), (3.09, 0.9998), (3.15, 1.0001),
         (3.21, 0.9997), (3.27, 1.0002), (3.33, 1.0000)]
p5_k2_more = [(-3.30, 0.9998), (-3.24, 1.0001), (-3.18, 1.0003), (-3.12, 0.9999), (-3.06, 0.9997),
              (-3.00, 1.0002), (-2.94, 1.0000), (-2.88, 1.0003), (-2.82, 0.9998), (-2.76, 1.0001),
              (-2.70, 0.9997), (-2.64, 1.0002), (-2.58, 0.9999), (-2.52, 1.0003), (-2.46, 1.0000),
              (-2.40, 0.9998), (-2.34, 1.0001), (-2.28, 0.9997), (-2.22, 1.0002), (-2.16, 0.9996),
              (-2.10, 0.9996), (-2.04, 0.9992), (-1.98, 0.9978), (-1.92, 0.9968), (-1.86, 0.9959),
              (-1.80, 0.9940), (-1.74, 0.9928), (-1.68, 0.9913), (-1.62, 0.9913), (-1.56, 0.9906),
              (-1.50, 0.9910), (-1.44, 0.9905), (-1.38, 0.9907), (-1.32, 0.9901), (-1.26, 0.9904),
              (-1.20, 0.9905), (-1.14, 0.9900), (-1.08, 0.9901), (-1.02, 0.9898), (-0.96, 0.9902),
              (-0.90, 0.9901), (-0.84, 0.9897), (-0.78, 0.9902), (-0.72, 0.9898), (-0.66, 0.9900),
              (-0.60, 0.9895), (-0.54, 0.9898), (-0.48, 0.9900), (-0.42, 0.9895), (-0.36, 0.9897),
              (-0.30, 0.9894), (-0.24, 0.9899), (-0.18, 0.9898), (-0.12, 0.9895), (-0.06, 0.9900),
              (0.00, 0.9896), (0.06, 0.9899), (0.12, 0.9894), (0.18, 0.9898), (0.24, 0.9900),
              (0.30, 0.9895), (0.36, 0.9897), (0.42, 0.9894), (0.48, 0.9899), (0.54, 0.9898),
              (0.60, 0.9896), (0.66, 0.9901), (0.72, 0.9897), (0.78, 0.9901), (0.84, 0.9896),
              (0.90, 0.9901), (0.96, 0.9903), (1.02, 0.9899), (1.08, 0.9901), (1.14, 0.9899),
              (1.20, 0.9904), (1.26, 0.9904), (1.32, 0.9902), (1.38, 0.9908), (1.44, 0.9906),
              (1.50, 0.9910), (1.56, 0.9909), (1.62, 0.9918), (1.68, 0.9931), (1.74, 0.9940),
              (1.80, 0.9955), (1.86, 0.9971), (1.92, 0.9977), (1.98, 0.9988), (2.04, 0.9990),
              (2.10, 0.9999), (2.16, 0.9999), (2.22, 1.0002), (2.28, 0.9997), (2.34, 1.0001),
              (2.40, 1.0003), (2.46, 0.9998), (2.52, 1.0000), (2.58, 1.0002), (2.64, 0.9997),
              (2.70, 1.0001), (2.76, 0.9999), (2.82, 1.0003), (2.88, 0.9998), (2.94, 1.0001),
              (3.00, 0.9997), (3.06, 1.0002), (3.12, 1.0000), (3.18, 0.9998), (3.24, 1.0003),
              (3.30, 0.9999)]
p5_k2_model = [(-3.37, 1.0), (-2.25, 1.0), (-2.12, 0.9997), (-2.05, 0.9991), (-1.96, 0.9976),
               (-1.86, 0.9956), (-1.76, 0.9932), (-1.68, 0.9916), (-1.60, 0.9909), (-1.45, 0.9905),
               (-1.20, 0.9902), (-0.70, 0.9898), (0.0, 0.9897), (0.70, 0.9898), (1.10, 0.9899),
               (1.35, 0.9902), (1.50, 0.9907), (1.60, 0.9915), (1.70, 0.9932), (1.78, 0.9951),
               (1.87, 0.9970), (1.95, 0.9983), (2.05, 0.9996), (2.15, 1.0), (3.37, 1.0)]
p5_bin = [(-3.30, 0.98463), (-3.09, 0.98512), (-2.89, 0.98505), (-2.68, 0.98512), (-2.49, 0.98505),
          (-2.29, 0.98562), (-2.08, 0.98421), (-1.88, 0.98018), (-1.67, 0.97709), (-1.47, 0.97672),
          (-1.27, 0.97586), (-1.07, 0.97524), (-0.87, 0.97573), (-0.67, 0.97487), (-0.47, 0.97536),
          (-0.27, 0.97450), (-0.06, 0.97561), (0.13, 0.97566), (0.33, 0.97487), (0.53, 0.97524),
          (0.73, 0.97549), (0.94, 0.97536), (1.14, 0.97672), (1.34, 0.97561), (1.55, 0.97598),
          (1.75, 0.97746), (1.95, 0.98240), (2.15, 0.98438), (2.35, 0.98562), (2.55, 0.98586),
          (2.75, 0.98611), (2.96, 0.98426), (3.16, 0.98451), (3.32, 0.98537)]
p5_tess_model = [(-3.37, 0.98515), (-2.04, 0.98515), (-1.98, 0.9838), (-1.90, 0.9812), (-1.82, 0.9790),
                 (-1.75, 0.9775), (-1.68, 0.9768), (-1.55, 0.9763), (-1.30, 0.9758), (-0.80, 0.9753),
                 (0.0, 0.9750), (0.80, 0.9753), (1.30, 0.9758), (1.55, 0.9762), (1.70, 0.9768),
                 (1.77, 0.9776), (1.85, 0.9795), (1.93, 0.9822), (2.00, 0.9840), (2.06, 0.9851),
                 (2.10, 0.98515), (3.37, 0.98515)]
p5_faint = [(-3.30, 0.98895), (-3.25, 0.98722), (-3.27, 0.98624), (-3.18, 0.98624), (-3.12, 0.98747),
            (-3.14, 0.98451), (-3.07, 0.98377), (-2.99, 0.98846), (-2.96, 0.98105), (-3.04, 0.99192),
            (-2.94, 0.98698), (-2.89, 0.98599), (-2.86, 0.98401), (-2.81, 0.98747), (-2.78, 0.98599),
            (-2.73, 0.98451), (-2.71, 0.98624), (-2.68, 0.98302), (-2.63, 0.98179), (-2.55, 0.99044),
            (-2.58, 0.98698), (-2.55, 0.98426), (-2.48, 0.98698), (-2.45, 0.98228), (-2.43, 0.98599),
            (-2.37, 0.98451), (-2.35, 0.98747), (-2.32, 0.98339), (-2.27, 0.98846), (-2.27, 0.98203),
            (-2.22, 0.98105), (-2.19, 0.98377), (-2.17, 0.98797), (-2.14, 0.98648), (-2.12, 0.98302),
            (-2.04, 0.98698), (-2.09, 0.98451), (-2.02, 0.98599), (-3.27, 0.98154), (-3.22, 0.98451),
            (-3.04, 0.98550), (-2.50, 0.98352), (-2.43, 0.98080), (-2.76, 0.98154), (-2.94, 0.98302),
            (-3.32, 0.98377), (-3.19, 0.98846),
            (-3.22, 0.9858), (-3.10, 0.9843), (-2.98, 0.9866), (-2.86, 0.9852), (-2.74, 0.9838),
            (-2.62, 0.9860), (-2.50, 0.9847), (-2.38, 0.9868), (-2.26, 0.9855), (-2.14, 0.9840),
            (-1.96, 0.98352), (-1.94, 0.98154), (-1.81, 0.98105), (-1.91, 0.97956), (-1.86, 0.97857),
            (-1.78, 0.97882), (-1.73, 0.98030), (-1.73, 0.98228), (-1.71, 0.97759), (-1.66, 0.97808),
            (-1.58, 0.97833), (-1.76, 0.97462), (-1.71, 0.97364), (-1.55, 0.97635), (-1.55, 0.97388),
            (-1.48, 0.97512), (-1.45, 0.97709), (-1.40, 0.97240), (-1.37, 0.97808), (-1.32, 0.97672),
            (-1.30, 0.97413), (-1.22, 0.97561), (-1.19, 0.97857), (-1.14, 0.97314), (-1.09, 0.97709),
            (-1.07, 0.97438), (-0.99, 0.97610), (-0.94, 0.97783), (-0.94, 0.97462), (-0.89, 0.97215),
            (-0.84, 0.97660), (-0.81, 0.97364), (-0.73, 0.97536), (-0.68, 0.97709), (-0.63, 0.97413),
            (-0.63, 0.97870), (-0.58, 0.97289), (-0.53, 0.97610), (-0.48, 0.97734), (-0.43, 0.97413),
            (-0.40, 0.97191), (-0.33, 0.97660), (-0.27, 0.97536), (-0.25, 0.97339), (-0.19, 0.97240),
            (-0.17, 0.97759), (-0.14, 0.98203), (-0.12, 0.98055), (-0.07, 0.97487), (-0.02, 0.97364),
            (0.01, 0.97709), (0.04, 0.97191), (0.09, 0.97610), (0.14, 0.97289), (0.19, 0.97981),
            (0.24, 0.97018), (0.29, 0.97833), (0.32, 0.97462), (0.37, 0.97635), (0.42, 0.97339),
            (0.45, 0.97759), (0.47, 0.97240), (0.52, 0.97561), (0.60, 0.97438), (0.65, 0.97116),
            (0.70, 0.97660), (0.75, 0.97314), (0.83, 0.97857), (0.86, 0.98006), (0.88, 0.97536),
            (0.93, 0.97191), (0.98, 0.97388), (1.01, 0.97783), (1.06, 0.97289), (1.11, 0.97610),
            (1.19, 0.97438), (1.24, 0.97709), (1.27, 0.97956), (1.32, 0.97808), (1.34, 0.97339),
            (1.39, 0.98154), (1.42, 0.97512), (1.47, 0.97685), (1.55, 0.97462), (1.57, 0.97783),
            (1.63, 0.97932), (1.68, 0.97586), (1.73, 0.97685), (1.75, 0.97857), (1.81, 0.97536),
            (1.83, 0.98006),
            (-1.60, 0.9770), (-1.52, 0.9758), (-1.44, 0.9745), (-1.36, 0.9762), (-1.28, 0.9749),
            (-1.20, 0.9738), (-1.12, 0.9760), (-1.04, 0.9748), (-0.96, 0.9735), (-0.88, 0.9752),
            (-0.80, 0.9744), (-0.72, 0.9763), (-0.64, 0.9739), (-0.56, 0.9751), (-0.48, 0.9730),
            (-0.40, 0.9757), (-0.32, 0.9745), (-0.24, 0.9766), (-0.16, 0.9736), (-0.08, 0.9752),
            (0.00, 0.9741), (0.08, 0.9760), (0.16, 0.9733), (0.24, 0.9749), (0.32, 0.9768),
            (0.40, 0.9738), (0.48, 0.9755), (0.56, 0.9729), (0.64, 0.9751), (0.72, 0.9742),
            (0.80, 0.9762), (0.88, 0.9736), (0.96, 0.9754), (1.04, 0.9745), (1.12, 0.9731),
            (1.20, 0.9758), (1.28, 0.9748), (1.36, 0.9763), (1.44, 0.9740), (1.52, 0.9755),
            (1.60, 0.9771), (1.68, 0.9748),
            (1.88, 0.98105), (1.96, 0.98203), (1.98, 0.97882), (2.04, 0.98599), (2.06, 0.98451),
            (2.09, 0.98203), (2.14, 0.98945), (2.16, 0.98747), (2.19, 0.98352), (2.24, 0.98550),
            (2.29, 0.98154), (2.34, 0.98722), (2.39, 0.98302), (2.45, 0.98945), (2.47, 0.98451),
            (2.50, 0.98105), (2.55, 0.98747), (2.57, 0.99044), (2.60, 0.97956), (2.63, 0.98550),
            (2.65, 0.98352), (2.73, 0.98203), (2.75, 0.98797), (2.78, 0.98451), (2.86, 0.98648),
            (2.88, 0.98253), (2.93, 0.98846), (2.96, 0.98105), (3.01, 0.98006), (3.04, 0.99241),
            (3.06, 0.98599), (3.11, 0.98302), (3.16, 0.98797), (3.19, 0.98451), (3.22, 0.98203),
            (3.27, 0.98648), (3.29, 0.98747), (3.32, 0.98080), (2.55, 0.99340), (2.45, 0.99142),
            (2.70, 0.99044), (2.09, 0.98797), (2.24, 0.97956), (1.96, 0.98006),
            (2.20, 0.9862), (2.32, 0.9845), (2.44, 0.9870), (2.56, 0.9852), (2.68, 0.9838),
            (2.80, 0.9862), (2.92, 0.9848), (3.04, 0.9866), (3.16, 0.9855), (3.28, 0.9840),
            (-0.22, 0.96857), (0.45, 0.96881), (-1.45, 0.97055), (0.27, 0.97030),
            (-3.34, 0.9872), (-3.28, 0.9838), (-3.20, 0.9880), (-3.16, 0.9832), (-3.08, 0.9868),
            (-3.02, 0.9822), (-2.96, 0.9876), (-2.92, 0.9835), (-2.84, 0.9870), (-2.80, 0.9826),
            (-2.72, 0.9880), (-2.66, 0.9845), (-2.60, 0.9873), (-2.56, 0.9830), (-2.52, 0.9862),
            (-2.46, 0.9883), (-2.40, 0.9835), (-2.34, 0.9870), (-2.30, 0.9850), (-2.24, 0.9878),
            (-2.20, 0.9866), (-2.16, 0.9835), (-2.10, 0.9872), (-2.06, 0.9856),
            (-2.00, 0.9848), (-1.98, 0.9822), (-1.92, 0.9806), (-1.88, 0.9790), (-1.84, 0.9800),
            (-1.80, 0.9770), (-1.74, 0.9785), (-1.70, 0.9754),
            (-1.64, 0.9740), (-1.62, 0.9782), (-1.56, 0.9727), (-1.50, 0.9766), (-1.46, 0.9735),
            (-1.42, 0.9753), (-1.36, 0.9722), (-1.34, 0.9771), (-1.26, 0.9733), (-1.24, 0.9765),
            (-1.16, 0.9745), (-1.10, 0.9727), (-1.02, 0.9768), (-0.98, 0.9722), (-0.92, 0.9748),
            (-0.86, 0.9774), (-0.82, 0.9727), (-0.76, 0.9756), (-0.70, 0.9736), (-0.66, 0.9772),
            (-0.60, 0.9724), (-0.54, 0.9746), (-0.50, 0.9765), (-0.44, 0.9728), (-0.38, 0.9770),
            (-0.34, 0.9738), (-0.28, 0.9754), (-0.22, 0.9722), (-0.18, 0.9748), (-0.10, 0.9770),
            (-0.04, 0.9730), (0.02, 0.9758), (0.06, 0.9722), (0.12, 0.9766), (0.20, 0.9742),
            (0.26, 0.9727), (0.30, 0.9760), (0.36, 0.9734), (0.44, 0.9772), (0.50, 0.9724),
            (0.54, 0.9748), (0.62, 0.9766), (0.68, 0.9730), (0.74, 0.9756), (0.78, 0.9722),
            (0.84, 0.9745), (0.90, 0.9769), (0.96, 0.9728), (1.02, 0.9752), (1.08, 0.9738),
            (1.14, 0.9772), (1.22, 0.9732), (1.26, 0.9752), (1.30, 0.9725), (1.38, 0.9758),
            (1.44, 0.9775), (1.50, 0.9736), (1.58, 0.9752), (1.62, 0.9729), (1.66, 0.9768),
            (1.72, 0.9747), (1.78, 0.9790), (1.84, 0.9770),
            (1.86, 0.9815), (1.90, 0.9800), (1.94, 0.9830), (2.00, 0.9842),
            (2.04, 0.9872), (2.08, 0.9836), (2.12, 0.9860), (2.18, 0.9878), (2.22, 0.9838),
            (2.28, 0.9868), (2.36, 0.9880), (2.40, 0.9832), (2.48, 0.9872), (2.52, 0.9850),
            (2.58, 0.9885), (2.62, 0.9828), (2.70, 0.9868), (2.76, 0.9836), (2.82, 0.9878),
            (2.90, 0.9860), (2.98, 0.9830), (3.02, 0.9874), (3.08, 0.9846), (3.14, 0.9884),
            (3.20, 0.9832), (3.24, 0.9866), (3.30, 0.9850), (3.34, 0.9878)]

# ---- K2-261 ----
p6_k2 = [(-4.08, 0.99997), (-3.97, 0.99997), (-3.86, 1.00003), (-3.76, 1.00007), (-3.67, 0.99997),
         (-3.57, 1.00003), (-3.45, 1.00001), (-3.38, 0.99987), (-3.28, 1.00007), (-3.16, 1.00001),
         (-3.10, 0.99997), (-3.04, 0.99990), (-2.97, 1.00007), (-2.85, 1.00008), (-2.72, 0.99999),
         (-2.61, 0.99990), (-2.53, 0.99957), (-2.42, 0.99920), (-2.35, 0.99877), (-2.25, 0.99817),
         (-2.17, 0.99773), (-2.09, 0.99757), (-2.00, 0.99750), (-1.93, 0.99740), (-1.84, 0.99743),
         (-1.71, 0.99713), (-1.55, 0.99703), (-1.43, 0.99697), (-1.33, 0.99700), (-1.27, 0.99687),
         (-1.14, 0.99687), (-1.05, 0.99680), (-0.95, 0.99677), (-0.83, 0.99657), (-0.73, 0.99683),
         (-0.57, 0.99643), (-0.48, 0.99672), (-0.39, 0.99677), (-0.29, 0.99673), (-0.20, 0.99663),
         (-0.07, 0.99650), (0.09, 0.99668), (0.18, 0.99663), (0.28, 0.99660), (0.40, 0.99657),
         (0.47, 0.99663), (0.59, 0.99680), (0.68, 0.99681), (0.75, 0.99673), (0.85, 0.99670),
         (1.00, 0.99657), (1.07, 0.99680), (1.19, 0.99703), (1.26, 0.99693), (1.32, 0.99673),
         (1.41, 0.99707), (1.57, 0.99717), (1.68, 0.99733), (1.76, 0.99717), (1.92, 0.99743),
         (2.04, 0.99760), (2.11, 0.99770), (2.17, 0.99783), (2.23, 0.99827), (2.30, 0.99863),
         (2.36, 0.99873), (2.45, 0.99923), (2.54, 0.99953), (2.58, 0.99960), (2.64, 0.99983),
         (2.74, 0.99997), (2.83, 1.00007), (2.93, 0.99997), (3.02, 1.00007), (3.12, 0.99993),
         (3.21, 1.00003), (3.34, 0.99997), (3.47, 1.00007), (3.56, 0.99993), (3.66, 0.99983),
         (3.78, 1.00013), (3.88, 1.00003), (3.97, 0.99993), (4.05, 0.99990)]
p6_k2_model = [(-4.10, 1.0), (-2.62, 1.0), (-2.55, 0.9997), (-2.45, 0.9992), (-2.35, 0.9986),
               (-2.25, 0.9981), (-2.15, 0.9978), (-2.00, 0.9975), (-1.70, 0.99718), (-1.30, 0.99693),
               (-0.70, 0.99673), (0.0, 0.99663), (0.70, 0.99670), (1.30, 0.99688), (1.70, 0.99715),
               (2.00, 0.99747), (2.15, 0.99778), (2.25, 0.99825), (2.35, 0.99880), (2.45, 0.99930),
               (2.55, 0.99970), (2.65, 0.99995), (2.72, 1.0), (4.10, 1.0)]
p6_bin = [(-4.08, 0.99617), (-3.87, 0.99561), (-3.67, 0.99621), (-3.47, 0.99588), (-3.27, 0.99610),
          (-3.07, 0.99653), (-2.87, 0.99610), (-2.66, 0.99593), (-2.46, 0.99580), (-2.25, 0.99423),
          (-2.05, 0.99370), (-1.85, 0.99317), (-1.65, 0.99330), (-1.45, 0.99330), (-1.25, 0.99270),
          (-1.05, 0.99270), (-0.84, 0.99283), (-0.65, 0.99265), (-0.45, 0.99279), (-0.25, 0.99257),
          (-0.04, 0.99248), (0.16, 0.99252), (0.36, 0.99297), (0.56, 0.99272), (0.75, 0.99293),
          (0.95, 0.99277), (1.15, 0.99288), (1.35, 0.99307), (1.55, 0.99308), (1.76, 0.99327),
          (1.96, 0.99325), (2.17, 0.99352), (2.36, 0.99447), (2.56, 0.99507), (2.76, 0.99570),
          (2.96, 0.99607), (3.16, 0.99580), (3.37, 0.99610), (3.56, 0.99563), (3.77, 0.99577),
          (3.97, 0.99630)]
p6_tess_model = [(-4.10, 0.99600), (-2.57, 0.99600), (-2.50, 0.99560), (-2.42, 0.99490), (-2.34, 0.99420),
                 (-2.28, 0.99390), (-2.15, 0.99360), (-1.90, 0.99330), (-1.50, 0.99305), (-1.00, 0.99285),
                 (0.0, 0.99272), (1.00, 0.99285), (1.50, 0.99305), (1.90, 0.99330), (2.15, 0.99360),
                 (2.28, 0.99390), (2.35, 0.99440), (2.42, 0.99510), (2.50, 0.99575), (2.57, 0.99600),
                 (4.10, 0.99600)]
p6_faint = [(-4.05, 0.99707), (-3.95, 0.99653), (-4.00, 0.99607), (-4.06, 0.99467), (-3.97, 0.99553),
            (-3.92, 0.99527), (-3.86, 0.99667), (-3.79, 0.99543), (-3.70, 0.99710), (-3.67, 0.99693),
            (-3.61, 0.99617), (-3.62, 0.99573), (-3.54, 0.99553), (-3.45, 0.99640), (-3.42, 0.99580),
            (-3.32, 0.99507), (-3.29, 0.99693), (-3.26, 0.99613), (-3.23, 0.99673), (-3.16, 0.99647),
            (-3.13, 0.99553), (-3.07, 0.99507), (-3.04, 0.99653), (-2.94, 0.99653), (-2.85, 0.99687),
            (-2.82, 0.99613), (-2.75, 0.99587), (-2.72, 0.99480), (-2.66, 0.99633), (-2.60, 0.99500),
            (-2.50, 0.99517), (-2.47, 0.99700), (-4.02, 0.99410), (-3.38, 0.99397), (-2.34, 0.99430),
            (-2.31, 0.99380), (-2.15, 0.99453), (-2.18, 0.99347), (-2.09, 0.99400), (-2.03, 0.99440),
            (-1.99, 0.99400), (-1.96, 0.99360), (-1.87, 0.99330), (-1.77, 0.99353), (-1.71, 0.99273),
            (-1.65, 0.99290), (-1.58, 0.99327), (-1.52, 0.99440), (-1.46, 0.99407), (-1.39, 0.99373),
            (-1.33, 0.99353), (-1.24, 0.99247), (-1.21, 0.99283), (-1.14, 0.99227), (-1.02, 0.99320),
            (-0.92, 0.99340), (-0.83, 0.99293), (-0.76, 0.99340), (-0.70, 0.99233), (-0.61, 0.99173),
            (-0.54, 0.99313), (-0.48, 0.99213), (-0.39, 0.99300), (-0.29, 0.99260), (-0.23, 0.99220),
            (-0.16, 0.99227), (-0.13, 0.99280), (-0.07, 0.99227), (-0.01, 0.99193), (0.06, 0.99340),
            (0.12, 0.99353), (0.18, 0.99260), (0.28, 0.99307), (0.34, 0.99340), (0.44, 0.99227),
            (0.50, 0.99360), (0.56, 0.99327), (0.59, 0.99260), (0.66, 0.99213), (0.72, 0.99327),
            (0.81, 0.99360), (0.88, 0.99287), (0.97, 0.99317), (1.04, 0.99440), (1.07, 0.99247),
            (1.16, 0.99220), (1.22, 0.99333), (1.29, 0.99413), (1.38, 0.99313), (1.45, 0.99260),
            (1.51, 0.99373), (1.60, 0.99413), (1.67, 0.99280), (1.73, 0.99320), (1.83, 0.99413),
            (1.89, 0.99333), (1.98, 0.99287), (2.05, 0.99440), (2.11, 0.99367), (2.20, 0.99460),
            (2.27, 0.99373), (2.33, 0.99480), (2.42, 0.99460), (2.49, 0.99520), (2.58, 0.99440),
            (2.65, 0.99707), (2.68, 0.99647), (2.71, 0.99547), (2.77, 0.99680), (2.84, 0.99533),
            (2.87, 0.99627), (2.93, 0.99580), (2.96, 0.99500), (3.02, 0.99673), (3.06, 0.99533),
            (3.12, 0.99613), (3.18, 0.99640), (3.24, 0.99553), (3.28, 0.99653), (3.34, 0.99720),
            (3.37, 0.99613), (3.40, 0.99560), (3.47, 0.99493), (3.53, 0.99573), (3.56, 0.99667),
            (3.62, 0.99640), (3.69, 0.99580), (3.78, 0.99520), (3.88, 0.99680), (3.94, 0.99540),
            (4.03, 0.99693), (4.00, 0.99647), (3.97, 0.99600), (0.15, 0.99153),
            (-4.00, 0.99580), (-3.84, 0.99620), (-3.74, 0.99500), (-3.58, 0.99650), (-3.50, 0.99550),
            (-3.36, 0.99680), (-3.20, 0.99580), (-3.00, 0.99620), (-2.90, 0.99500), (-2.78, 0.99660),
            (-2.68, 0.99550), (-2.40, 0.99420), (-2.24, 0.99300), (-2.06, 0.99250), (-1.92, 0.99450),
            (-1.80, 0.99200), (-1.62, 0.99350), (-1.42, 0.99300), (-1.30, 0.99200), (-1.10, 0.99350),
            (-0.96, 0.99250), (-0.80, 0.99310), (-0.64, 0.99220), (-0.44, 0.99350), (-0.34, 0.99200),
            (-0.20, 0.99320), (0.00, 0.99350), (0.24, 0.99220), (0.40, 0.99320), (0.62, 0.99350),
            (0.78, 0.99220), (0.94, 0.99335), (1.12, 0.99300), (1.34, 0.99360), (1.56, 0.99330),
            (1.78, 0.99360), (1.94, 0.99400), (2.14, 0.99420), (2.38, 0.99500), (2.62, 0.99560),
            (2.80, 0.99620), (3.00, 0.99580), (3.30, 0.99600), (3.50, 0.99620), (3.72, 0.99640),
            (3.90, 0.99600)]

# axis ranges and ticks per panel
xlims = [(-3.12, 3.12), (-2.35, 2.35), (-2.07, 2.06), (-2.38, 2.37), (-3.37, 3.35), (-4.08, 4.09)]
ylims = [(0.9557, 1.0029), (0.992, 1.00103), (0.99352, 1.001), (0.940, 1.0049), (0.967, 1.0021), (0.9910, 1.0005)]
xticks = [[-3, -2, -1, 0, 1, 2, 3], [-2, -1, 0, 1, 2], [-2, -1, 0, 1, 2], [-2, -1, 0, 1, 2],
          [-3, -2, -1, 0, 1, 2, 3], [-4, -3, -2, -1, 0, 1, 2, 3, 4]]
yticks = [[0.960, 0.970, 0.980, 0.990, 1.000],
          [0.992, 0.994, 0.996, 0.998, 1.000],
          [0.994, 0.995, 0.996, 0.997, 0.998, 0.999, 1.000, 1.001],
          [0.940, 0.950, 0.960, 0.970, 0.980, 0.990, 1.000],
          [0.970, 0.975, 0.980, 0.985, 0.990, 0.995, 1.000],
          [0.992, 0.994, 0.996, 0.998, 1.000]]

panels = [
    dict(k2=p1_k2, k2m=p1_k2_model, faint=p1_faint, bin=p1_bin, tm=p1_tess_model),
    dict(k2=p2_k2, k2m=p2_k2_model, faint=p2_faint, bin=p2_bin, tm=p2_tess_model),
    dict(k2=p3_k2, k2m=p3_k2_model, faint=p3_faint, bin=p3_bin, tm=p3_tess_model),
    dict(k2=p4_k2 + p4_k2_more, k2m=p4_k2_model, faint=p4_faint, bin=p4_bin, tm=p4_tess_model),
    dict(k2=p5_k2 + p5_k2_more, k2m=p5_k2_model, faint=p5_faint, bin=p5_bin, tm=p5_tess_model),
    dict(k2=p6_k2, k2m=p6_k2_model, faint=p6_faint, bin=p6_bin, tm=p6_tess_model),
]

# ======================================
# FIGURE
# ======================================
W, H = 2607, 2771
fig = plt.figure(figsize=(W / 100, H / 100), dpi=100)
fig.patch.set_facecolor("white")

# navy frame strips (top and left)
navy = "#0c3b66"
fig.add_artist(Rectangle((0, 1 - 20 / H), 1, 20 / H, transform=fig.transFigure, color=navy, zorder=0))
fig.add_artist(Rectangle((0, 0), 14 / W, 1, transform=fig.transFigure, color=navy, zorder=0))

col_left = [0.1262, 0.598]
col_w = 0.394
row_bottom = [0.7182, 0.3952, 0.0733]
row_h = 0.2686


def split(pts):
    xs, ys = zip(*pts)
    return list(xs), list(ys)


for i, p in enumerate(panels):
    r, c = divmod(i, 2)
    ax = fig.add_axes([col_left[c], row_bottom[r], col_w, row_h])

    fx, fy = split(p["faint"])
    sns.scatterplot(x=fx, y=fy, ax=ax, s=230, color="purple", alpha=0.14,
                    edgecolor="purple", linewidth=1.0, zorder=1)
    kx, ky = split(p["k2"])
    sns.scatterplot(x=kx, y=ky, ax=ax, s=290, color="slategray", alpha=0.7,
                    edgecolor="black", linewidth=1.0, zorder=2)
    mx, my = split(p["k2m"])
    sns.lineplot(x=mx, y=my, ax=ax, color="slategray", linewidth=3,
                 sort=False, estimator=None, zorder=3)
    tx, ty = split(p["tm"])
    sns.lineplot(x=tx, y=ty, ax=ax, color="purple", linewidth=3,
                 sort=False, estimator=None, zorder=3)
    bx, by = split(p["bin"])
    sns.scatterplot(x=bx, y=by, ax=ax, s=310, color="purple", alpha=0.6,
                    edgecolor="black", linewidth=1.0, zorder=4)

    ax.set_xlim(*xlims[i])
    ax.set_ylim(*ylims[i])
    ax.set_xticks(xticks[i], [str(v).replace("-", "\u2212") for v in xticks[i]],
                  fontsize=35, fontweight="bold")
    ax.set_yticks(yticks[i], [f"{v:.3f}" for v in yticks[i]], fontsize=35, fontweight="bold")
    ax.tick_params(axis="x", direction="in", length=14, width=1.5, bottom=True, top=False,
                   pad=6, colors="black")
    ax.tick_params(axis="y", direction="in", length=14, width=1.5, left=True, right=False,
                   pad=7, colors="black")
    ax.set_xlabel("")
    ax.set_ylabel("")
    for sp in ax.spines.values():
        sp.set_linewidth(2.2)
        sp.set_color("black")

    box = dict(boxstyle="round,pad=0.3", fc="white", ec="black", lw=1.5)
    ax.text(0.070, 0.112, names[i], transform=ax.transAxes, fontsize=32, color="black",
            ha="left", va="center", bbox=box, zorder=10)
    ax.text(0.681, 0.112, periods[i], transform=ax.transAxes, fontsize=32, color="black",
            ha="left", va="center", bbox=box, zorder=10)

# shared axis labels
fig.text(0.546, 0.0069, "Hours from mid transit", fontsize=72, fontweight="bold",
         color="black", ha="center", va="baseline")
fig.text(0.028, 0.5356, "Normalized flux + constant", fontsize=72, fontweight="bold",
         color="black", rotation=90, ha="center", va="center")

# legend
handles = [Line2D([], [], ls="", marker="o", markersize=12, markerfacecolor="#bcc4cb",
                  markeredgecolor="#6b6b6b", markeredgewidth=1.2),
           Line2D([], [], ls="", marker="o", markersize=12, markerfacecolor="#c981c9",
                  markeredgecolor="#6b4a6b", markeredgewidth=1.2)]
leg = fig.legend(handles, ["K2", "TESS"], loc="center", bbox_to_anchor=(0.166, 0.0209), ncol=2,
                 fontsize=32, frameon=True, fancybox=True, framealpha=1, edgecolor="black",
                 handlelength=1.0, handletextpad=1.4, columnspacing=2.8, borderpad=0.4)
leg.get_frame().set_linewidth(2)
for t in leg.get_texts():
    t.set_color("black")

fig.savefig("out.png", dpi=100)
